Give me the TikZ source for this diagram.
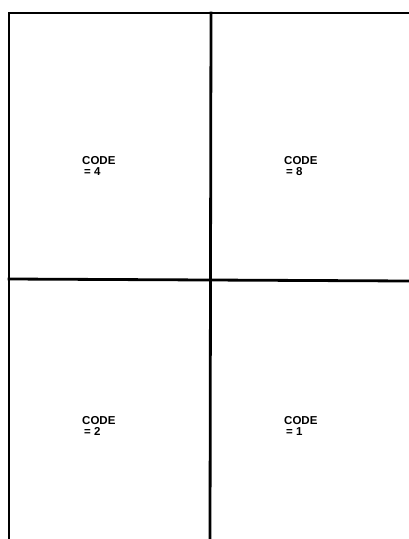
\documentclass[tikz,border=0pt]{standalone}
\usepackage{fontspec}
\setmainfont{Liberation Sans}
\begin{document}
\begin{tikzpicture}[x=1pt,y=-1pt,
  grid/.style={line width=2.8pt,line cap=rect},
  lbl/.style={font=\bfseries\fontsize{11.5}{13}\selectfont,align=left,inner sep=0pt,anchor=north west}]
\useasboundingbox (0,0) rectangle (409,539);
\coordinate (tl) at (9,13);
\coordinate (tr) at (409,13);
\coordinate (bl) at (9,539);
\coordinate (tm) at (211,13);
\coordinate (bm) at (210,539);
\coordinate (ml) at (9,279);
\coordinate (mr) at (409,281);
\draw[grid] (tr) -- (tl) -- (bl);
\draw[grid] (tm) -- (bm);
\draw[grid] (ml) -- (mr);
\node[lbl] (c4) at (82,156) {CODE\\[-2pt]\hspace*{2pt}= 4};
\node[lbl] (c8) at (284,156) {CODE\\[-2pt]\hspace*{2pt}= 8};
\node[lbl] (c2) at (82,416) {CODE\\[-2pt]\hspace*{2pt}= 2};
\node[lbl] (c1) at (284,416) {CODE\\[-2pt]\hspace*{2pt}= 1};
\end{tikzpicture}
\end{document}
